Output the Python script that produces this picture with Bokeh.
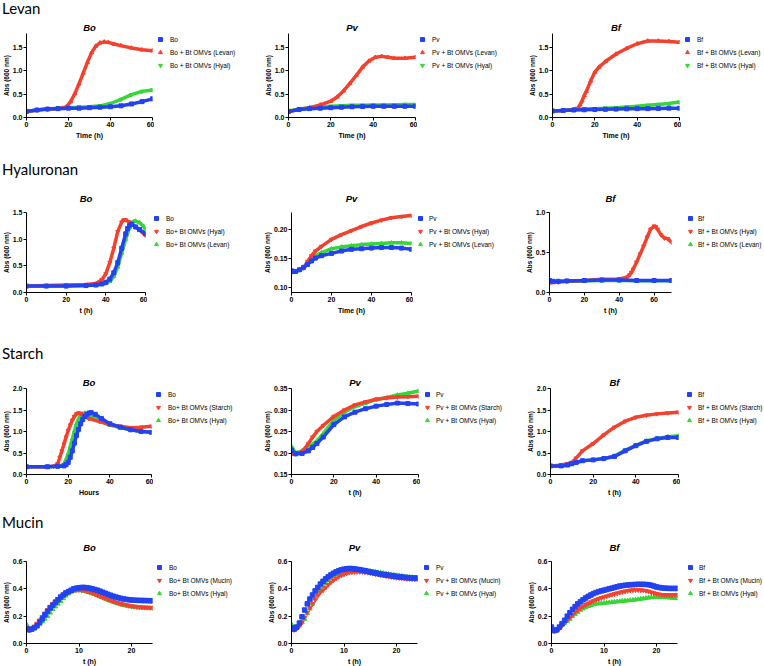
from bokeh.plotting import figure
from bokeh.layouts import column, row
from bokeh.models import Div, Range1d, FixedTicker, PrintfTickFormatter, Legend, LegendItem, Title
from bokeh.embed import file_html
from bokeh.resources import INLINE

BLUE = "#2343f2"
RED = "#f4412e"
GREEN = "#36d636"

# ---------------- Levan ----------------
LEV_BO_T = [0, 5, 10, 15, 20, 25, 30, 35, 40, 45, 50, 55, 60]
LEV_BO = [0.13, 0.16, 0.18, 0.19, 0.20, 0.20, 0.21, 0.22, 0.23, 0.25, 0.29, 0.34, 0.40]
LEV_BO_LEV_T = [0, 5, 10, 15, 17, 19, 21, 23, 25, 27, 29, 31, 33, 35, 37, 39, 42, 45, 50, 55, 60]
LEV_BO_LEV = [0.13, 0.16, 0.18, 0.19, 0.20, 0.23, 0.34, 0.51, 0.72, 0.95, 1.18, 1.39, 1.53, 1.60, 1.62, 1.61, 1.57, 1.54, 1.49, 1.45, 1.43]
LEV_BO_HYA = [0.13, 0.16, 0.18, 0.20, 0.21, 0.22, 0.23, 0.25, 0.30, 0.39, 0.49, 0.56, 0.59]

LEV_PV_T = [0, 5, 10, 15, 20, 25, 30, 35, 40, 45, 50, 55, 60]
LEV_PV = [0.13, 0.17, 0.19, 0.20, 0.21, 0.22, 0.23, 0.235, 0.24, 0.24, 0.24, 0.24, 0.24]
LEV_PV_LEV_T = [0, 5, 10, 15, 20, 23, 26, 29, 32, 35, 38, 41, 44, 47, 50, 55, 60]
LEV_PV_LEV = [0.13, 0.17, 0.21, 0.27, 0.35, 0.44, 0.57, 0.73, 0.90, 1.08, 1.21, 1.29, 1.31, 1.29, 1.27, 1.27, 1.29]
LEV_PV_HYA = [0.14, 0.18, 0.21, 0.23, 0.24, 0.25, 0.26, 0.265, 0.27, 0.27, 0.275, 0.28, 0.28]

LEV_BF_T = [0, 5, 10, 15, 20, 25, 30, 35, 40, 45, 50, 55, 60]
LEV_BF = [0.14, 0.15, 0.16, 0.165, 0.17, 0.175, 0.18, 0.185, 0.19, 0.19, 0.195, 0.20, 0.20]
LEV_BF_LEV_T = [0, 5, 10, 11, 12, 13, 14, 15, 16, 18, 20, 22, 25, 30, 35, 40, 45, 50, 55, 60]
LEV_BF_LEV = [0.14, 0.15, 0.17, 0.18, 0.20, 0.27, 0.36, 0.47, 0.56, 0.78, 0.97, 1.08, 1.20, 1.36, 1.48, 1.58, 1.64, 1.64, 1.63, 1.61]
LEV_BF_HYA = [0.14, 0.15, 0.17, 0.18, 0.19, 0.20, 0.21, 0.225, 0.24, 0.26, 0.28, 0.30, 0.33]

# ---------------- Hyaluronan ----------------
HYA_BO_T = [0, 10, 20, 30, 35, 38, 40, 42, 44, 46, 48, 50, 51, 52, 53, 55, 57, 60]
HYA_BO = [0.12, 0.12, 0.12, 0.13, 0.14, 0.16, 0.19, 0.25, 0.37, 0.56, 0.83, 1.10, 1.20, 1.26, 1.28, 1.23, 1.18, 1.10]
HYA_BO_HYA_T = [0, 10, 20, 30, 35, 38, 40, 42, 44, 46, 48, 49, 50, 52, 55, 58, 60]
HYA_BO_HYA = [0.12, 0.13, 0.14, 0.15, 0.17, 0.24, 0.35, 0.56, 0.83, 1.14, 1.32, 1.36, 1.36, 1.32, 1.23, 1.14, 1.07]
HYA_BO_LEV_T = [0, 10, 20, 30, 35, 40, 42, 44, 46, 48, 50, 52, 53, 54, 55, 57, 59, 60]
HYA_BO_LEV = [0.12, 0.12, 0.12, 0.13, 0.14, 0.17, 0.21, 0.30, 0.48, 0.74, 1.00, 1.22, 1.29, 1.33, 1.34, 1.31, 1.24, 1.18]

HYA_PV_T = [0, 1, 2, 4, 6, 8, 10, 12, 15, 20, 25, 30, 35, 40, 45, 50, 55, 60]
HYA_PV = [0.129, 0.128, 0.128, 0.131, 0.135, 0.140, 0.146, 0.151, 0.155, 0.159, 0.163, 0.166, 0.167, 0.168, 0.169, 0.169, 0.168, 0.166]
HYA_PV_HYA = [0.130, 0.129, 0.128, 0.131, 0.134, 0.145, 0.155, 0.163, 0.171, 0.183, 0.191, 0.198, 0.205, 0.211, 0.216, 0.220, 0.222, 0.224]
HYA_PV_LEV = [0.126, 0.127, 0.128, 0.130, 0.134, 0.140, 0.148, 0.155, 0.160, 0.167, 0.170, 0.172, 0.174, 0.175, 0.176, 0.177, 0.177, 0.176]

HYA_BF_T = [0, 2, 5, 10, 20, 30, 40, 50, 60, 70]
HYA_BF = [0.15, 0.14, 0.14, 0.145, 0.15, 0.155, 0.155, 0.15, 0.15, 0.15]
HYA_BF_HYA_T = [0, 5, 10, 20, 30, 40, 43, 45, 46, 47, 48, 50, 52, 54, 56, 58, 60, 61, 62, 64, 66, 68, 70]
HYA_BF_HYA = [0.12, 0.13, 0.14, 0.15, 0.165, 0.17, 0.18, 0.20, 0.22, 0.25, 0.29, 0.38, 0.48, 0.58, 0.69, 0.79, 0.83, 0.82, 0.79, 0.72, 0.68, 0.67, 0.63]
HYA_BF_LEV = [0.14, 0.13, 0.135, 0.14, 0.145, 0.15, 0.15, 0.148, 0.148, 0.148]

# ---------------- Starch ----------------
STA_BO_T = [0, 10, 15, 18, 19, 20, 21, 22, 23, 24, 25, 26, 27, 28, 29, 30, 31, 33, 36, 40, 45, 50, 55, 60]
STA_BO = [0.18, 0.18, 0.19, 0.20, 0.23, 0.28, 0.40, 0.55, 0.73, 0.91, 1.05, 1.18, 1.28, 1.35, 1.40, 1.43, 1.44, 1.40, 1.30, 1.18, 1.10, 1.04, 1.00, 0.98]
STA_BO_STA_T = [0, 10, 13, 14, 15, 16, 17, 18, 19, 20, 21, 22, 23, 24, 25, 26, 27, 30, 35, 40, 45, 50, 55, 60]
STA_BO_STA = [0.18, 0.18, 0.19, 0.21, 0.25, 0.40, 0.55, 0.71, 0.87, 1.02, 1.15, 1.26, 1.35, 1.41, 1.43, 1.42, 1.38, 1.30, 1.23, 1.16, 1.12, 1.09, 1.10, 1.12]
STA_BO_HYA_T = [0, 10, 15, 17, 18, 19, 20, 21, 22, 23, 24, 25, 26, 27, 28, 30, 33, 36, 40, 45, 50, 55, 60]
STA_BO_HYA = [0.18, 0.18, 0.19, 0.21, 0.25, 0.35, 0.48, 0.65, 0.83, 1.01, 1.18, 1.29, 1.37, 1.41, 1.43, 1.38, 1.30, 1.23, 1.15, 1.09, 1.04, 1.00, 0.98]

STA_PV_T = [0, 2, 5, 8, 10, 12, 15, 20, 25, 30, 35, 40, 45, 50, 55, 60]
STA_PV = [0.207, 0.198, 0.199, 0.205, 0.213, 0.222, 0.237, 0.266, 0.284, 0.295, 0.303, 0.309, 0.313, 0.316, 0.315, 0.314]
STA_PV_STA = [0.197, 0.198, 0.203, 0.222, 0.237, 0.250, 0.264, 0.285, 0.300, 0.312, 0.319, 0.325, 0.328, 0.330, 0.331, 0.332]
STA_PV_HYA = [0.215, 0.200, 0.205, 0.212, 0.220, 0.228, 0.245, 0.276, 0.295, 0.308, 0.316, 0.324, 0.329, 0.335, 0.339, 0.344]

STA_BF_T = [0, 5, 8, 10, 12, 15, 20, 25, 30, 35, 40, 45, 50, 55, 60]
STA_BF = [0.20, 0.20, 0.22, 0.25, 0.28, 0.32, 0.34, 0.37, 0.42, 0.55, 0.67, 0.77, 0.83, 0.86, 0.86]
STA_BF_STA = [0.19, 0.22, 0.25, 0.28, 0.38, 0.55, 0.72, 0.92, 1.10, 1.24, 1.33, 1.38, 1.41, 1.43, 1.45]
STA_BF_HYA = [0.20, 0.20, 0.22, 0.25, 0.28, 0.32, 0.34, 0.37, 0.43, 0.56, 0.68, 0.78, 0.84, 0.88, 0.90]

# ---------------- Mucin ----------------
MUC_T = [0, 0.5, 1, 1.5, 2, 2.5, 3, 3.5, 4, 4.5, 5, 5.5, 6, 6.5, 7, 7.5, 8, 8.5, 9, 9.5,
         10, 10.5, 11, 11.5, 12, 12.5, 13, 13.5, 14, 14.5, 15, 15.5, 16, 16.5, 17, 17.5,
         18, 18.5, 19, 19.5, 20, 20.5, 21, 21.5, 22, 22.5, 23, 23.5, 24]
MUC_BO = [0.11, 0.10, 0.105, 0.115, 0.13, 0.155, 0.18, 0.21, 0.235, 0.26, 0.28, 0.30, 0.32, 0.34, 0.355, 0.37, 0.38, 0.39, 0.40, 0.405,
          0.408, 0.41, 0.41, 0.408, 0.405, 0.40, 0.395, 0.39, 0.383, 0.375, 0.368, 0.36, 0.353, 0.346, 0.34, 0.335,
          0.33, 0.326, 0.323, 0.32, 0.318, 0.317, 0.316, 0.315, 0.315, 0.314, 0.314, 0.313, 0.313]
MUC_BO_MUC = [0.10, 0.10, 0.11, 0.125, 0.145, 0.17, 0.195, 0.22, 0.245, 0.27, 0.29, 0.31, 0.325, 0.34, 0.355, 0.367, 0.377, 0.385, 0.39, 0.393,
              0.393, 0.39, 0.387, 0.382, 0.376, 0.37, 0.362, 0.354, 0.346, 0.338, 0.33, 0.322, 0.315, 0.308, 0.301, 0.295,
              0.29, 0.285, 0.281, 0.277, 0.274, 0.271, 0.269, 0.267, 0.265, 0.264, 0.263, 0.262, 0.261]
MUC_BO_HYA = [0.14, 0.11, 0.11, 0.115, 0.125, 0.14, 0.16, 0.18, 0.20, 0.225, 0.25, 0.27, 0.29, 0.31, 0.33, 0.35, 0.365, 0.377, 0.385, 0.388,
              0.39, 0.388, 0.385, 0.38, 0.374, 0.367, 0.36, 0.352, 0.343, 0.335, 0.327, 0.319, 0.312, 0.305, 0.298, 0.292,
              0.286, 0.281, 0.277, 0.273, 0.27, 0.267, 0.265, 0.263, 0.262, 0.261, 0.26, 0.259, 0.258]
MUC_PV = [0.115, 0.105, 0.12, 0.15, 0.195, 0.245, 0.29, 0.325, 0.355, 0.385, 0.41, 0.435, 0.455, 0.473, 0.488, 0.502, 0.514, 0.524, 0.532, 0.539,
          0.544, 0.547, 0.549, 0.548, 0.546, 0.543, 0.54, 0.536, 0.532, 0.528, 0.524, 0.52, 0.516, 0.512, 0.508, 0.505,
          0.502, 0.499, 0.496, 0.493, 0.49, 0.488, 0.486, 0.484, 0.482, 0.481, 0.48, 0.479, 0.478]
MUC_PV_MUC = [0.11, 0.10, 0.11, 0.13, 0.155, 0.19, 0.225, 0.26, 0.29, 0.32, 0.35, 0.375, 0.39, 0.41, 0.43, 0.448, 0.463, 0.477, 0.489, 0.499,
              0.507, 0.514, 0.519, 0.522, 0.524, 0.525, 0.525, 0.524, 0.522, 0.519, 0.516, 0.512, 0.508, 0.505, 0.501, 0.498,
              0.494, 0.491, 0.488, 0.485, 0.482, 0.48, 0.478, 0.476, 0.474, 0.473, 0.472, 0.471, 0.47]
MUC_PV_HYA = [0.14, 0.12, 0.115, 0.13, 0.155, 0.18, 0.22, 0.255, 0.29, 0.33, 0.36, 0.39, 0.415, 0.44, 0.46, 0.48, 0.495, 0.51, 0.52, 0.528,
              0.534, 0.538, 0.54, 0.541, 0.541, 0.54, 0.539, 0.537, 0.535, 0.532, 0.529, 0.526, 0.523, 0.52, 0.517, 0.514,
              0.511, 0.508, 0.505, 0.502, 0.499, 0.496, 0.493, 0.49, 0.488, 0.486, 0.484, 0.482, 0.48]
MUC_BF = [0.12, 0.095, 0.10, 0.12, 0.145, 0.17, 0.20, 0.225, 0.25, 0.27, 0.29, 0.305, 0.32, 0.333, 0.345, 0.355, 0.365, 0.373, 0.38, 0.385,
          0.39, 0.395, 0.40, 0.405, 0.41, 0.415, 0.42, 0.423, 0.426, 0.428, 0.43, 0.431, 0.432, 0.433, 0.433, 0.433,
          0.432, 0.43, 0.426, 0.42, 0.414, 0.41, 0.407, 0.405, 0.404, 0.403, 0.403, 0.403, 0.403]
MUC_BF_MUC = [0.10, 0.09, 0.095, 0.11, 0.13, 0.15, 0.17, 0.19, 0.21, 0.23, 0.245, 0.26, 0.272, 0.283, 0.294, 0.303, 0.312, 0.32, 0.328, 0.334,
              0.34, 0.346, 0.352, 0.358, 0.363, 0.368, 0.373, 0.378, 0.382, 0.386, 0.389, 0.391, 0.392, 0.392, 0.391, 0.389,
              0.386, 0.381, 0.375, 0.369, 0.364, 0.36, 0.357, 0.356, 0.355, 0.355, 0.355, 0.356, 0.357]
MUC_BF_HYA = [0.11, 0.10, 0.10, 0.115, 0.135, 0.15, 0.165, 0.18, 0.20, 0.215, 0.23, 0.245, 0.255, 0.265, 0.273, 0.28, 0.285, 0.29, 0.292, 0.294,
              0.296, 0.298, 0.30, 0.302, 0.304, 0.306, 0.308, 0.31, 0.312, 0.314, 0.316, 0.318, 0.32, 0.323, 0.326, 0.329,
              0.332, 0.335, 0.337, 0.338, 0.339, 0.339, 0.339, 0.338, 0.337, 0.335, 0.333, 0.331, 0.33]

# ticks
X60 = [0, 20, 40, 60]
X70 = [0, 20, 40, 60]
X24 = [0, 10, 20]
Y_LEV = [0, 0.5, 1.0, 1.5]
Y_HYA_BO = [0, 0.5, 1.0, 1.5]
Y_HYA_PV = [0.10, 0.15, 0.20]
Y_HYA_BF = [0, 0.5, 1.0]
Y_STA = [0, 0.5, 1.0, 1.5, 2.0]
Y_STA_PV = [0.15, 0.20, 0.25, 0.30, 0.35]
Y_MUC = [0, 0.2, 0.4, 0.6]

SECTIONS = ["Levan", "Hyaluronan", "Starch", "Mucin"]
YLABEL = "Abs (600 nm)"

# layout (page pixels)
COLS = [(0, 260), (260, 250), (510, 254)]
ROWS = [
    dict(div_h=16, top=16, h=143, ft=33, tstand=1, leg_d=5, mode="line"),
    dict(div_h=20, top=179, h=164, ft=212, tstand=17, leg_d=5, mode="line"),
    dict(div_h=20, top=363, h=152, ft=388, tstand=1, leg_d=3, mode="line"),
    dict(div_h=15, top=530, h=136, ft=560, tstand=18, leg_d=-9, mode="marker"),
]

PANELS = [
    [
        dict(title="Bo", xlabel="Time (h)", xr=(0, 60), yr=(0, 1.8), xt=X60, yt=Y_LEV, yf="%.1f", frame=(24, 128, 84), gx=160, tx=170,
             series=[("Bo", LEV_BO_T, LEV_BO, BLUE, "square"),
                     ("Bo + Bt OMVs (Levan)", LEV_BO_LEV_T, LEV_BO_LEV, RED, "triangle"),
                     ("Bo + Bt OMVs (Hyal)", LEV_BO_T, LEV_BO_HYA, GREEN, "inverted_triangle")]),
        dict(title="Pv", xlabel="Time (h)", xr=(0, 60), yr=(0, 1.8), xt=X60, yt=Y_LEV, yf="%.1f", frame=(288, 127, 84), gx=421, tx=431,
             series=[("Pv", LEV_PV_T, LEV_PV, BLUE, "square"),
                     ("Pv + Bt OMVs (Levan)", LEV_PV_LEV_T, LEV_PV_LEV, RED, "triangle"),
                     ("Pv + Bt OMVs (Hyal)", LEV_PV_T, LEV_PV_HYA, GREEN, "inverted_triangle")]),
        dict(title="Bf", xlabel="Time (h)", xr=(0, 60), yr=(0, 1.8), xt=X60, yt=Y_LEV, yf="%.1f", frame=(552, 127, 84), gx=687, tx=697,
             series=[("Bf", LEV_BF_T, LEV_BF, BLUE, "square"),
                     ("Bf + Bt OMVs (Levan)", LEV_BF_LEV_T, LEV_BF_LEV, RED, "triangle"),
                     ("Bf + Bt OMVs (Hyal)", LEV_BF_T, LEV_BF_HYA, GREEN, "inverted_triangle")]),
    ],
    [
        dict(title="Bo", xlabel="t (h)", xr=(0, 60), yr=(0, 1.5), xt=X60, yt=Y_HYA_BO, yf="%.1f", frame=(21, 124, 82), gx=156, tx=166,
             series=[("Bo", HYA_BO_T, HYA_BO, BLUE, "square"),
                     ("Bo+ Bt OMVs (Hyal)", HYA_BO_HYA_T, HYA_BO_HYA, RED, "inverted_triangle"),
                     ("Bo+ Bt OMVs (Levan)", HYA_BO_LEV_T, HYA_BO_LEV, GREEN, "triangle")]),
        dict(title="Pv", xlabel="Time (h)", xr=(0, 60), yr=(0.092, 0.229), xt=X60, yt=Y_HYA_PV, yf="%.2f", frame=(291, 120, 80), gx=420, tx=429,
             series=[("Pv", HYA_PV_T, HYA_PV, BLUE, "square"),
                     ("Pv + Bt OMVs (Hyal)", HYA_PV_T, HYA_PV_HYA, RED, "inverted_triangle"),
                     ("Pv + Bt OMVs (Levan)", HYA_PV_T, HYA_PV_LEV, GREEN, "triangle")]),
        dict(title="Bf", xlabel="t (h)", xr=(0, 70), yr=(0, 1.0), xt=X70, yt=Y_HYA_BF, yf="%.1f", frame=(549, 122, 81), gx=690, tx=698,
             series=[("Bf", HYA_BF_T, HYA_BF, BLUE, "square"),
                     ("Bf + Bt OMVs (Hyal)", HYA_BF_HYA_T, HYA_BF_HYA, RED, "inverted_triangle"),
                     ("Bf + Bt OMVs (Levan)", HYA_BF_T, HYA_BF_LEV, GREEN, "triangle")]),
    ],
    [
        dict(title="Bo", xlabel="Hours", xr=(0, 60), yr=(0, 2.0), xt=X60, yt=Y_STA, yf="%.1f", frame=(23, 128, 86), gx=156, tx=166,
             series=[("Bo", STA_BO_T, STA_BO, BLUE, "square"),
                     ("Bo+ Bt OMVs (Starch)", STA_BO_STA_T, STA_BO_STA, RED, "inverted_triangle"),
                     ("Bo+ Bt OMVs (Hyal)", STA_BO_HYA_T, STA_BO_HYA, GREEN, "triangle")]),
        dict(title="Pv", xlabel="t (h)", xr=(0, 60), yr=(0.15, 0.35), xt=X60, yt=Y_STA_PV, yf="%.2f", frame=(291, 127, 86), gx=427, tx=436,
             series=[("Pv", STA_PV_T, STA_PV, BLUE, "square"),
                     ("Pv + Bt OMVs (Starch)", STA_PV_T, STA_PV_STA, RED, "inverted_triangle"),
                     ("Pv + Bt OMVs (Hyal)", STA_PV_T, STA_PV_HYA, GREEN, "triangle")]),
        dict(title="Bf", xlabel="t (h)", xr=(0, 60), yr=(0, 2.0), xt=X60, yt=Y_STA, yf="%.1f", frame=(550, 128, 86), gx=689, tx=698,
             series=[("Bf", STA_BF_T, STA_BF, BLUE, "square"),
                     ("Bf + Bt OMVs (Starch)", STA_BF_T, STA_BF_STA, RED, "inverted_triangle"),
                     ("Bf + Bt OMVs (Hyal)", STA_BF_T, STA_BF_HYA, GREEN, "triangle")]),
    ],
    [
        dict(title="Bo", xlabel="t (h)", xr=(0, 24), yr=(0, 0.6), xt=X24, yt=Y_MUC, yf="%.1f", frame=(25, 127, 83), gx=156, tx=166,
             series=[("Bo", MUC_T, MUC_BO, BLUE, "square"),
                     ("Bo+ Bt OMVs (Mucin)", MUC_T, MUC_BO_MUC, RED, "inverted_triangle"),
                     ("Bo+ Bt OMVs (Hyal)", MUC_T, MUC_BO_HYA, GREEN, "triangle")]),
        dict(title="Pv", xlabel="t (h)", xr=(0, 24), yr=(0, 0.6), xt=X24, yt=Y_MUC, yf="%.1f", frame=(291, 126, 83), gx=426, tx=436,
             series=[("Pv", MUC_T, MUC_PV, BLUE, "square"),
                     ("Pv + Bt OMVs (Mucin)", MUC_T, MUC_PV_MUC, RED, "inverted_triangle"),
                     ("Pv + Bt OMVs (Hyal)", MUC_T, MUC_PV_HYA, GREEN, "triangle")]),
        dict(title="Bf", xlabel="t (h)", xr=(0, 24), yr=(0, 0.6), xt=X24, yt=Y_MUC, yf="%.1f", frame=(551, 126, 83), gx=690, tx=699,
             series=[("Bf", MUC_T, MUC_BF, BLUE, "square"),
                     ("Bf + Bt OMVs (Mucin)", MUC_T, MUC_BF_MUC, RED, "inverted_triangle"),
                     ("Bf + Bt OMVs (Hyal)", MUC_T, MUC_BF_HYA, GREEN, "triangle")]),
    ],
]

FONT = "Liberation Sans"
ENTRY_H = 12
SPACING = 1
GLYPH_W = 10
PLOT_PAD_R = 2


def build_plot(spec, col, rs):
    cx, cw = COLS[col]
    fl, fw, fh = spec["frame"]
    ml = fl - cx
    mt = rs["ft"] - rs["top"]
    mb = rs["h"] - mt - fh
    p = figure(width=ml + fw + PLOT_PAD_R, height=rs["h"], min_border_left=ml, min_border_right=PLOT_PAD_R,
               min_border_top=mt, min_border_bottom=mb,
               x_range=Range1d(*spec["xr"]), y_range=Range1d(*spec["yr"]),
               output_backend="svg", toolbar_location=None, title=spec["title"])
    p.outline_line_color = None
    p.grid.visible = False
    p.background_fill_color = "white"
    p.border_fill_color = "white"
    p.title.align = "center"
    p.title.text_font = FONT
    p.title.text_font_size = "9.5px"
    p.title.text_font_style = "bold italic"
    p.title.text_color = "black"
    p.title.standoff = rs["tstand"]
    p.xaxis.ticker = FixedTicker(ticks=spec["xt"])
    p.yaxis.ticker = FixedTicker(ticks=spec["yt"])
    p.xaxis.formatter = PrintfTickFormatter(format="%d")
    p.yaxis.formatter = PrintfTickFormatter(format=spec["yf"])
    for ax in (p.xaxis[0], p.yaxis[0]):
        ax.axis_line_color = "black"
        ax.axis_line_width = 1
        ax.major_tick_line_color = "black"
        ax.major_tick_out = 3
        ax.major_tick_in = 0
        ax.minor_tick_out = 0
        ax.minor_tick_in = 0
        ax.major_label_text_font = FONT
        ax.major_label_text_font_size = "7px"
        ax.major_label_text_font_style = "bold"
        ax.major_label_text_color = "black"
        ax.major_label_standoff = 1
    # axis titles as plot titles placed below / left (outside the axes)
    p.add_layout(Title(text=spec["xlabel"], align="center", text_font=FONT, text_font_size="7px",
                       text_font_style="bold", text_color="black", standoff=0), "below")
    p.add_layout(Title(text=YLABEL, align="center", text_font=FONT, text_font_size="6.5px",
                       text_font_style="bold", text_color="black", standoff=0), "left")

    for lab, t, y, colr, mk in reversed(spec["series"]):
        if rs["mode"] == "line":
            p.line(t, y, line_color=colr, line_width=3.5)
            p.scatter(t, y, marker=mk, size=4, fill_color=colr, line_color=colr)
        else:
            p.scatter(t, y, marker=mk, size=4.5, fill_color=colr, line_color=colr)
    return p, ml + fw + PLOT_PAD_R


def build_legend_fig(spec, col, rs, x0):
    cx, cw = COLS[col]
    w = cx + cw - x0
    h = rs["h"]
    top = int(round((rs["ft"] - rs["top"]) + rs["leg_d"] - ENTRY_H / 2))
    vx = max(0, int(round(spec["gx"] - GLYPH_W / 2 - x0)))
    # the ranges lie outside the data, so the series only feed the legend swatches
    lf = figure(width=w, height=h, min_border_left=vx, min_border_top=top, min_border_right=0,
                min_border_bottom=0, x_range=Range1d(-3, -2), y_range=Range1d(-3, -2),
                x_axis_type=None, y_axis_type=None, title_location=None,
                output_backend="svg", toolbar_location=None)
    lf.outline_line_color = None
    lf.grid.visible = False
    lf.background_fill_color = "white"
    lf.border_fill_color = "white"
    items = []
    for lab, t, y, colr, mk in spec["series"]:
        r = lf.scatter(t, y, marker=mk, size=4.5, fill_color=colr, line_color=colr)
        items.append(LegendItem(label=lab, renderers=[r]))
    ls = max(0, int(round(spec["tx"] - (spec["gx"] + GLYPH_W / 2))))
    leg = Legend(items=items, location="top_left", glyph_width=GLYPH_W, glyph_height=ENTRY_H,
                 label_height=ENTRY_H, spacing=SPACING, padding=0, margin=0, label_standoff=ls,
                 label_text_font=FONT, label_text_font_size="6.5px", label_text_color="black",
                 border_line_alpha=0, background_fill_alpha=0)
    lf.add_layout(leg)
    return lf


children = []
for name, rs, panels in zip(SECTIONS, ROWS, PANELS):
    div = Div(text=name, width=764, height=rs["div_h"], margin=0,
              styles={"font-family": "Lato, sans-serif", "font-size": "15px",
                      "line-height": "%dpx" % rs["div_h"], "color": "black", "padding-left": "2px"})
    figs = []
    for i, spec in enumerate(panels):
        p, pw = build_plot(spec, i, rs)
        lf = build_legend_fig(spec, i, rs, COLS[i][0] + pw)
        figs += [p, lf]
    children.append(div)
    children.append(row(*figs, spacing=0, margin=0))

root = column(*children, spacing=0, margin=0)

open("out.html", "w").write(file_html(root, INLINE))
